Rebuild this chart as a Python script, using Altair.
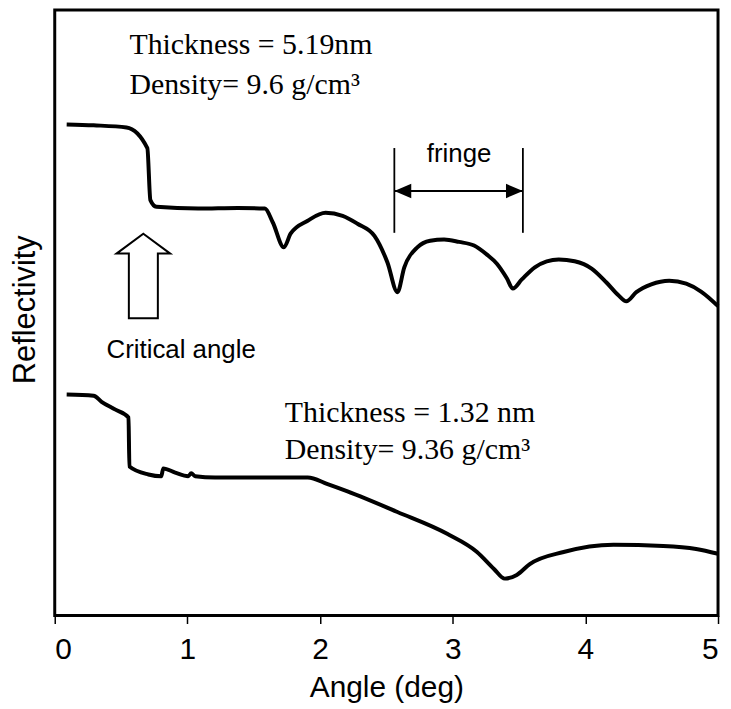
import altair as alt
import pandas as pd

# ---- data (angle in deg, reflectivity in arbitrary units 0-100) ----
top_angle = [0.09, 0.293, 0.541, 0.698, 0.721, 0.766, 1.081, 1.381, 1.584, 1.644, 1.727,
             1.779, 1.907, 2.042, 2.170, 2.282, 2.410, 2.508, 2.583, 2.635, 2.733, 2.830,
             2.935, 3.048, 3.161, 3.258, 3.333, 3.408, 3.453, 3.521, 3.619, 3.709, 3.799,
             3.919, 4.047, 4.159, 4.249, 4.309, 4.384, 4.497, 4.632, 4.760, 4.872, 5.0]
top_refl = [81.1, 80.95, 80.6, 77.2, 68.6, 67.5, 67.2, 67.3, 67.2, 64.9, 60.8,
            63.1, 65.2, 66.5, 66.0, 64.7, 62.7, 58.3, 53.4, 57.5, 60.8, 61.9,
            62.1, 61.7, 61.1, 59.6, 58.1, 55.7, 54.0, 55.5, 57.5, 58.5, 58.8,
            58.5, 57.3, 55.0, 52.9, 51.9, 53.4, 54.7, 55.3, 54.8, 53.5, 51.1]

bottom_angle = [0.09, 0.293, 0.353, 0.458, 0.556, 0.563, 0.706, 0.803, 0.818, 0.908, 1.006,
                1.029, 1.059, 1.209, 1.532, 1.907, 2.057, 2.207, 2.583, 2.958, 3.183, 3.311,
                3.393, 3.483, 3.581, 3.836, 4.212, 4.587, 4.835, 5.0]
bottom_refl = [36.5, 36.3, 35.3, 34.0, 32.7, 24.6, 23.3, 23.0, 24.3, 23.6, 23.0,
               23.5, 23.0, 22.8, 22.8, 22.8, 21.7, 20.5, 17.1, 13.5, 10.5, 7.7,
               6.1, 6.7, 8.5, 10.5, 11.7, 11.5, 11.0, 10.2]

x_ticks = [0, 1, 2, 3, 4, 5]

serif_labels = ["Thickness = 5.19nm", "Density= 9.6 g/cm\u00b3",
                "Thickness = 1.32 nm", "Density= 9.36 g/cm\u00b3"]
serif_angle = [0.563, 0.563, 1.734, 1.734]
serif_refl = [92.8, 86.2, 32.0, 25.8]

sans_labels = ["Critical angle", "fringe"]
sans_angle = [0.953, 3.048]
sans_refl = [42.5, 74.9]

fringe_angle = [2.56, 3.529]
fringe_low = 63.2
fringe_high = 77.2
fringe_arrow_refl = 70.1

critical_angle = 0.668
critical_tip_refl = 63.05

# ---- tables ----
curves = pd.DataFrame(
    {"angle": top_angle + bottom_angle,
     "refl": top_refl + bottom_refl,
     "series": ["top"] * len(top_angle) + ["bottom"] * len(bottom_angle)}
)
serif_df = pd.DataFrame({"angle": serif_angle, "refl": serif_refl, "label": serif_labels})
sans_df = pd.DataFrame({"angle": sans_angle, "refl": sans_refl, "label": sans_labels})
fringe_df = pd.DataFrame({"angle": fringe_angle, "refl": [fringe_low] * 2,
                          "refl2": [fringe_high] * 2})
arrow_line_df = pd.DataFrame({"angle": [fringe_angle[0]], "angle2": [fringe_angle[1]],
                              "refl": [fringe_arrow_refl]})
left_head_df = pd.DataFrame({"angle": [fringe_angle[0]], "refl": [fringe_arrow_refl]})
right_head_df = pd.DataFrame({"angle": [fringe_angle[1]], "refl": [fringe_arrow_refl]})
crit_df = pd.DataFrame({"angle": [critical_angle], "refl": [critical_tip_refl]})

x_enc = alt.X("angle:Q",
              scale=alt.Scale(domain=[0, 5], nice=False, zero=False),
              axis=alt.Axis(title="Angle (deg)", values=x_ticks, format="d",
                            domain=False, grid=False, ticks=True, tickSize=8,
                            tickWidth=1.5, tickColor="black",
                            labelFontSize=30, labelPadding=35,
                            labelBaseline="alphabetic", labelFont="Liberation Sans",
                            labelColor="black",
                            titleFontSize=30, titleFont="Liberation Sans",
                            titleFontWeight="normal", titleColor="black",
                            titleBaseline="alphabetic", titleY=81))
y_enc = alt.Y("refl:Q",
              scale=alt.Scale(domain=[0, 100], nice=False, zero=False),
              axis=alt.Axis(title="Reflectivity", labels=False, ticks=False,
                            domain=False, grid=False,
                            titleFontSize=31, titleFont="Liberation Sans",
                            titleFontWeight="normal", titleColor="black",
                            titleAngle=270, titleBaseline="middle", titleAlign="center",
                            titleX=-29, titleY=301))

lines = alt.Chart(curves).mark_line(color="black", strokeWidth=4,
                                    strokeJoin="round", interpolate="monotone").encode(
    x=x_enc, y=y_enc, detail="series:N", order="angle:Q")

serif_text = alt.Chart(serif_df).mark_text(
    font="Liberation Serif", fontSize=30, align="left", baseline="alphabetic",
    color="black").encode(x=x_enc, y=y_enc, text="label:N")

sans_text = alt.Chart(sans_df).mark_text(
    font="Liberation Sans", fontSize=26, align="center", baseline="alphabetic",
    color="black").encode(x=x_enc, y=y_enc, text="label:N")

fringe_rules = alt.Chart(fringe_df).mark_rule(color="black", strokeWidth=1.8).encode(
    x=x_enc, y=y_enc, y2="refl2:Q")

arrow_line = alt.Chart(arrow_line_df).mark_rule(color="black", strokeWidth=2).encode(
    x=x_enc, x2="angle2:Q", y=y_enc)

left_head = alt.Chart(left_head_df).mark_point(
    shape="M0,0 L2,-0.85 L2,0.85 Z", size=289, filled=True, color="black",
    opacity=1).encode(x=x_enc, y=y_enc)
right_head = alt.Chart(right_head_df).mark_point(
    shape="M0,0 L-2,-0.85 L-2,0.85 Z", size=289, filled=True, color="black",
    opacity=1).encode(x=x_enc, y=y_enc)

crit_arrow = alt.Chart(crit_df).mark_point(
    shape="M0,0 L1,0.74 L0.54,0.74 L0.54,3.15 L-0.54,3.15 L-0.54,0.74 L-1,0.74 Z",
    size=2916, filled=True, fill="white", stroke="black", strokeWidth=2,
    opacity=1, fillOpacity=1, strokeOpacity=1).encode(x=x_enc, y=y_enc)

chart = alt.layer(
    lines, serif_text, sans_text, fringe_rules, arrow_line, left_head, right_head,
    crit_arrow
).properties(
    width=667, height=609,
    autosize=alt.AutoSizeParams(type="none"),
    padding={"left": 47, "top": 0, "right": 5, "bottom": 92},
    background="white",
).configure_view(stroke="black", strokeWidth=3)

chart.save("out.html", embed_options={"renderer": "svg", "actions": False})
